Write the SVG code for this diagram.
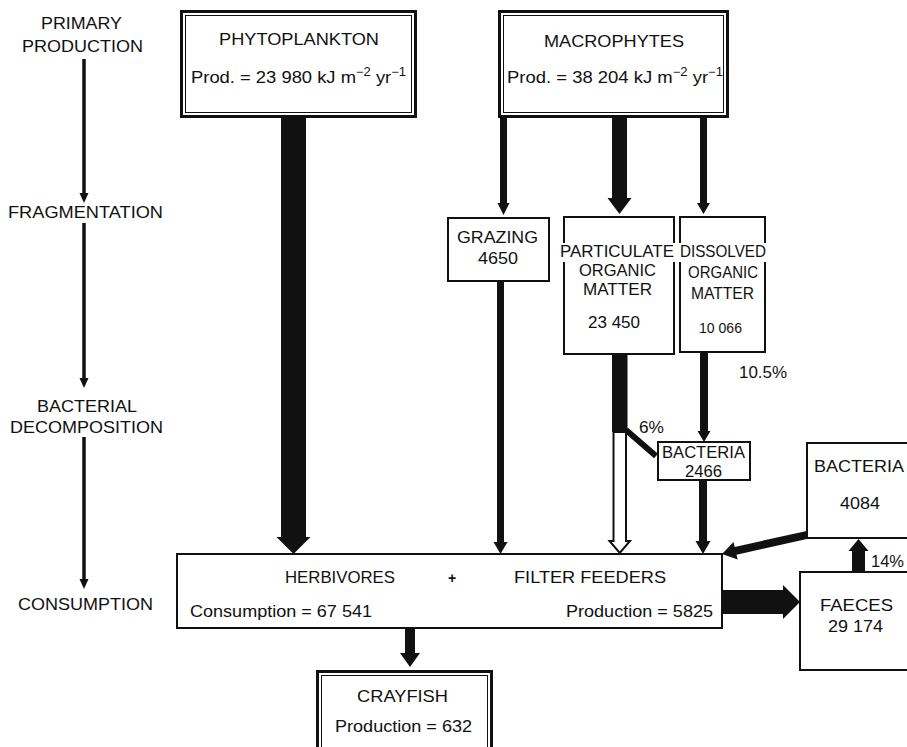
<svg xmlns="http://www.w3.org/2000/svg" width="907" height="747" viewBox="0 0 907 747">
  <style>
    .t { font-family: "Liberation Sans", Arial, Helvetica, sans-serif; font-size: 17px; fill: #111; }
    .sup { font-size: 12px; }
    .box { fill: #fff; stroke: #111; stroke-width: 2; }
    .outer { fill: #fff; stroke: #111; stroke-width: 3; }
    .inner { fill: none; stroke: #111; stroke-width: 1; }
    .solid { fill: #111; stroke: none; }
    .hollow { fill: #fff; stroke: #111; stroke-width: 2; }
    .axis { stroke: #111; stroke-width: 3.5; fill: none; }
  </style>
  <rect width="907" height="747" fill="#fff"/>

  <!-- stage axis on the left -->
  <g id="stages">
    <text class="t" x="41" y="29" textLength="81" lengthAdjust="spacingAndGlyphs">PRIMARY</text>
    <text class="t" x="22" y="52" textLength="121" lengthAdjust="spacingAndGlyphs">PRODUCTION</text>
    <text class="t" x="8" y="218" textLength="155" lengthAdjust="spacingAndGlyphs">FRAGMENTATION</text>
    <text class="t" x="37" y="412" textLength="100" lengthAdjust="spacingAndGlyphs">BACTERIAL</text>
    <text class="t" x="10" y="433" textLength="153" lengthAdjust="spacingAndGlyphs">DECOMPOSITION</text>
    <text class="t" x="18" y="610" textLength="135" lengthAdjust="spacingAndGlyphs">CONSUMPTION</text>
    <line class="axis" x1="84" y1="59" x2="84" y2="194"/>
    <path class="solid" d="M79.5,193 L88.5,193 L84,203 Z"/>
    <line class="axis" x1="84" y1="223" x2="84" y2="379"/>
    <path class="solid" d="M79.5,378 L88.5,378 L84,388 Z"/>
    <line class="axis" x1="84" y1="437" x2="84" y2="580"/>
    <path class="solid" d="M79.5,579 L88.5,579 L84,589 Z"/>
  </g>

  <!-- flows -->
  <g id="connectors">
    <!-- phytoplankton to consumers -->
    <path class="solid" d="M281,118 H306 V537 H310.5 L293.5,554 L276.5,537 H281 Z"/>
    <!-- macrophytes to grazing -->
    <path class="solid" d="M500,118 H507 V203 H509.5 L503.5,215 L497.5,203 H500 Z"/>
    <!-- macrophytes to particulate organic matter -->
    <path class="solid" d="M612,118 H627 V198 H631.5 L619.5,214 L607.5,198 H612 Z"/>
    <!-- macrophytes to dissolved organic matter -->
    <path class="solid" d="M700,118 H707 V203 H710 L703.5,214 L697,203 H700 Z"/>
    <!-- grazing to consumers -->
    <path class="solid" d="M497,282 H504 V542 H507.5 L500.5,554 L493.5,542 H497 Z"/>
    <!-- particulate organic matter: solid part, then hollow part -->
    <rect class="solid" x="612" y="355" width="15.5" height="77"/>
    <path class="hollow" d="M613.5,432 H626 V541 H630 L619.75,553 L609.5,541 H613.5 Z"/>
    <!-- 6 % branch to bacteria -->
    <line x1="626" y1="430" x2="656" y2="456" stroke="#111" stroke-width="6"/>
    <!-- dissolved organic matter to bacteria -->
    <path class="solid" d="M700,353 H708 V431 H710.5 L704,442 L697.5,431 H700 Z"/>
    <!-- bacteria 2466 to consumers -->
    <path class="solid" d="M699,481 H707 V541 H710.5 L703,554 L695.5,541 H699 Z"/>
    <!-- bacteria 4084 to consumers -->
    <path class="solid" d="M809,538.5 L809,530.5 L734.7,546.9 L733.5,542 L722,554 L737.7,559.6 L736.5,554.7 Z"/>
    <!-- faeces to bacteria 4084 -->
    <path class="solid" d="M852,573 V551 H848.5 L858.5,539 L868.5,551 H865 V573 Z"/>
    <!-- consumers to faeces -->
    <path class="solid" d="M722,590 H783 V585 L800,602 L783,619 V614 H722 Z"/>
    <!-- consumers to crayfish -->
    <path class="solid" d="M405,629 H415 V653 H420 L410,667 L400,653 H405 Z"/>
  </g>

  <g id="phytoplankton">
    <rect class="outer" x="181.5" y="11.5" width="234" height="105"/>
    <rect class="inner" x="185.5" y="15.5" width="226" height="97"/>
    <text class="t" x="219" y="45" textLength="160" lengthAdjust="spacingAndGlyphs">PHYTOPLANKTON</text>
    <text class="t" x="191" y="83" textLength="215" lengthAdjust="spacingAndGlyphs">Prod. = 23 980 kJ m<tspan class="sup" dy="-7">−2</tspan><tspan dy="7"> yr</tspan><tspan class="sup" dy="-7">−1</tspan></text>
  </g>

  <g id="macrophytes">
    <rect class="outer" x="499.5" y="11.5" width="228" height="105"/>
    <rect class="inner" x="503.5" y="15.5" width="220" height="97"/>
    <text class="t" x="544" y="47" textLength="140" lengthAdjust="spacingAndGlyphs">MACROPHYTES</text>
    <text class="t" x="507" y="83" textLength="216" lengthAdjust="spacingAndGlyphs">Prod. = 38 204 kJ m<tspan class="sup" dy="-7">−2</tspan><tspan dy="7"> yr</tspan><tspan class="sup" dy="-7">−1</tspan></text>
  </g>

  <g id="grazing">
    <rect class="box" x="448" y="218" width="101" height="63"/>
    <text class="t" x="457" y="243" textLength="81" lengthAdjust="spacingAndGlyphs">GRAZING</text>
    <text class="t" x="478" y="264" textLength="40" lengthAdjust="spacingAndGlyphs">4650</text>
  </g>

  <g id="particulate">
    <rect class="box" x="564" y="217" width="110" height="137"/>
    <rect x="558" y="243" width="120" height="19" fill="#fff"/>
    <text class="t" x="560" y="257" textLength="114" lengthAdjust="spacingAndGlyphs">PARTICULATE</text>
    <text class="t" x="579" y="276" textLength="77" lengthAdjust="spacingAndGlyphs">ORGANIC</text>
    <text class="t" x="583" y="295" textLength="69" lengthAdjust="spacingAndGlyphs">MATTER</text>
    <text class="t" x="588" y="328" textLength="52" lengthAdjust="spacingAndGlyphs">23 450</text>
  </g>

  <g id="dissolved">
    <rect class="box" x="680" y="217" width="85" height="135"/>
    <rect x="676" y="243" width="94" height="19" fill="#fff"/>
    <text class="t" x="680" y="257" textLength="86" lengthAdjust="spacingAndGlyphs">DISSOLVED</text>
    <text class="t" x="688" y="278" textLength="70" lengthAdjust="spacingAndGlyphs">ORGANIC</text>
    <text class="t" x="691" y="299" textLength="63" lengthAdjust="spacingAndGlyphs">MATTER</text>
    <text class="t" x="699" y="333" textLength="43" lengthAdjust="spacingAndGlyphs" style="font-size:15px">10 066</text>
    <text class="t" x="739" y="378" textLength="48" lengthAdjust="spacingAndGlyphs">10.5%</text>
  </g>

  <g id="bacteria-2466">
    <text class="t" x="639" y="433" textLength="25" lengthAdjust="spacingAndGlyphs">6%</text>
    <rect class="box" x="658" y="442" width="92" height="38"/>
    <text class="t" x="662" y="458" textLength="83" lengthAdjust="spacingAndGlyphs">BACTERIA</text>
    <text class="t" x="685" y="477" textLength="37" lengthAdjust="spacingAndGlyphs">2466</text>
  </g>

  <g id="bacteria-4084">
    <rect class="box" x="807" y="443" width="110" height="95"/>
    <text class="t" x="814" y="472" textLength="90" lengthAdjust="spacingAndGlyphs">BACTERIA</text>
    <text class="t" x="840" y="509" textLength="40" lengthAdjust="spacingAndGlyphs">4084</text>
  </g>

  <g id="consumers">
    <rect class="box" x="177" y="554" width="545" height="74"/>
    <text class="t" x="285" y="583" textLength="110" lengthAdjust="spacingAndGlyphs">HERBIVORES</text>
    <text class="t" x="448" y="583" style="font-size:14px;font-weight:bold">+</text>
    <text class="t" x="514" y="583" textLength="152" lengthAdjust="spacingAndGlyphs">FILTER FEEDERS</text>
    <text class="t" x="190" y="617" textLength="182" lengthAdjust="spacingAndGlyphs">Consumption = 67 541</text>
    <text class="t" x="566" y="617" textLength="147" lengthAdjust="spacingAndGlyphs">Production = 5825</text>
  </g>

  <g id="faeces">
    <text class="t" x="871" y="567" textLength="33" lengthAdjust="spacingAndGlyphs">14%</text>
    <rect class="box" x="800" y="572" width="117" height="98"/>
    <text class="t" x="820" y="611" textLength="73" lengthAdjust="spacingAndGlyphs">FAECES</text>
    <text class="t" x="828" y="632" textLength="55" lengthAdjust="spacingAndGlyphs">29 174</text>
  </g>

  <g id="crayfish">
    <rect class="outer" x="317.5" y="671.5" width="174" height="90"/>
    <rect class="inner" x="321.5" y="675.5" width="166" height="90"/>
    <text class="t" x="357" y="702" textLength="91" lengthAdjust="spacingAndGlyphs">CRAYFISH</text>
    <text class="t" x="335" y="732" textLength="137" lengthAdjust="spacingAndGlyphs">Production = 632</text>
  </g>
</svg>
